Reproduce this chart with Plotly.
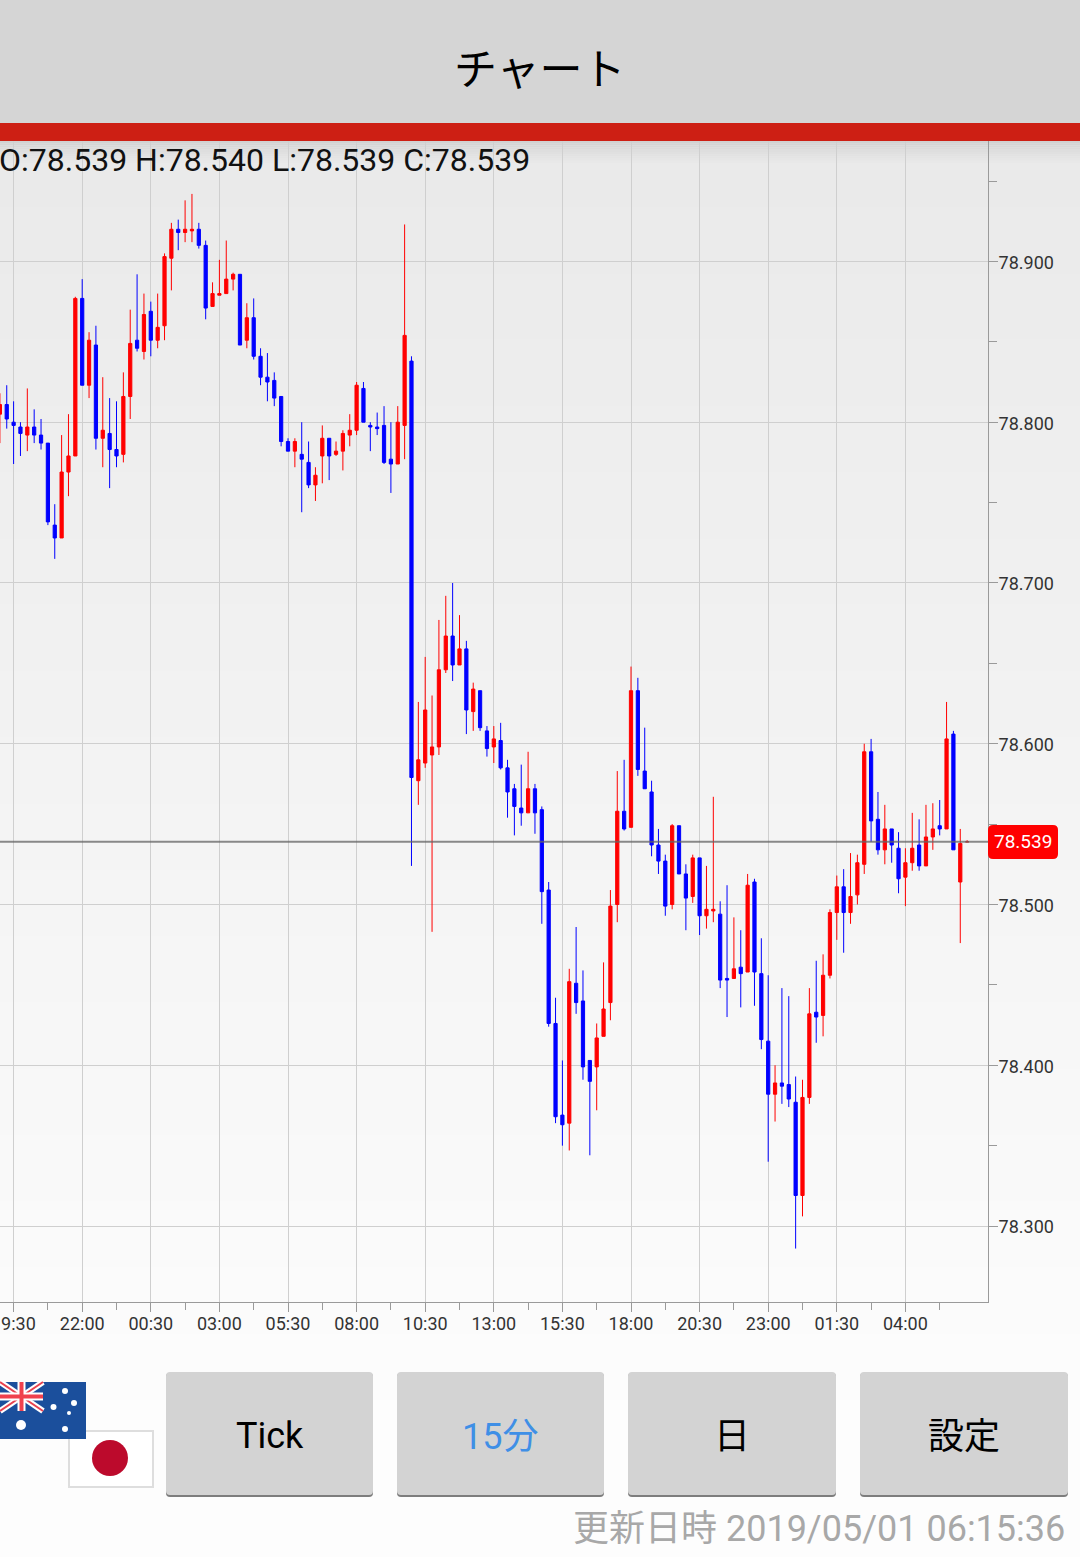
import pandas as pd
import plotly.graph_objects as go

# ---------- data (15 minute candles) ----------
start_time = "2019-04-29 19:00"
open_prices = [
    78.805, 78.811, 78.800, 78.797, 78.792, 78.797, 78.792, 78.787, 78.736, 78.728, 78.769, 78.779,
    78.877, 78.823, 78.848, 78.790, 78.793, 78.783, 78.780, 78.816, 78.851, 78.844, 78.869, 78.851,
    78.860, 78.902, 78.920, 78.918, 78.919, 78.920, 78.910, 78.872, 78.879, 78.880, 78.889, 78.892,
    78.851, 78.865, 78.841, 78.828, 78.826, 78.816, 78.788, 78.782, 78.780, 78.775, 78.761, 78.779,
    78.790, 78.780, 78.782, 78.792, 78.795, 78.821, 78.798, 78.797, 78.798, 78.777, 78.774, 78.798,
    78.838, 78.577, 78.588, 78.593, 78.598, 78.646, 78.667, 78.649, 78.659, 78.620, 78.633, 78.608,
    78.598, 78.602, 78.585, 78.572, 78.560, 78.557, 78.572, 78.559, 78.509, 78.426, 78.369, 78.364,
    78.451, 78.440, 78.403, 78.399, 78.418, 78.439, 78.500, 78.558, 78.548, 78.633, 78.583, 78.570,
    78.537, 78.527, 78.500, 78.549, 78.519, 78.505, 78.529, 78.493, 78.496, 78.494, 78.454, 78.454,
    78.461, 78.458, 78.514, 78.457, 78.415, 78.382, 78.389, 78.388, 78.377, 78.319, 78.380, 78.433,
    78.431, 78.456, 78.495, 78.511, 78.495, 78.506, 78.525, 78.595, 78.553, 78.534, 78.547, 78.535,
    78.517, 78.526, 78.537, 78.524, 78.542, 78.549, 78.547, 78.606, 78.514, 78.539,
]
high_prices = [
    78.818, 78.823, 78.813, 78.800, 78.821, 78.808, 78.802, 78.787, 78.749, 78.792, 78.805, 78.878,
    78.889, 78.856, 78.860, 78.828, 78.815, 78.813, 78.831, 78.870, 78.892, 78.880, 78.875, 78.880,
    78.905, 78.924, 78.926, 78.938, 78.942, 78.924, 78.913, 78.887, 78.901, 78.913, 78.893, 78.892,
    78.874, 78.877, 78.846, 78.843, 78.831, 78.816, 78.790, 78.790, 78.800, 78.788, 78.772, 78.798,
    78.790, 78.788, 78.795, 78.805, 78.825, 78.825, 78.800, 78.806, 78.810, 78.800, 78.810, 78.923,
    78.841, 78.626, 78.654, 78.630, 78.677, 78.692, 78.700, 78.680, 78.664, 78.638, 78.633, 78.611,
    78.611, 78.613, 78.590, 78.575, 78.587, 78.595, 78.575, 78.561, 78.514, 78.442, 78.403, 78.460,
    78.486, 78.459, 78.403, 78.426, 78.464, 78.509, 78.583, 78.590, 78.648, 78.641, 78.610, 78.577,
    78.547, 78.531, 78.550, 78.549, 78.525, 78.531, 78.529, 78.524, 78.567, 78.502, 78.512, 78.492,
    78.484, 78.519, 78.516, 78.479, 78.456, 78.400, 78.448, 78.443, 78.393, 78.391, 78.448, 78.465,
    78.469, 78.497, 78.518, 78.522, 78.532, 78.531, 78.600, 78.603, 78.570, 78.562, 78.547, 78.545,
    78.535, 78.557, 78.553, 78.562, 78.563, 78.565, 78.626, 78.608, 78.547, 78.540,
]
low_prices = [
    78.787, 78.796, 78.774, 78.779, 78.782, 78.787, 78.783, 78.736, 78.715, 78.728, 78.754, 78.779,
    78.823, 78.815, 78.783, 78.772, 78.759, 78.772, 78.775, 78.802, 78.844, 78.839, 78.841, 78.846,
    78.851, 78.882, 78.907, 78.912, 78.912, 78.908, 78.864, 78.872, 78.879, 78.880, 78.882, 78.848,
    78.846, 78.839, 78.823, 78.813, 78.810, 78.785, 78.782, 78.772, 78.744, 78.759, 78.751, 78.762,
    78.764, 78.779, 78.770, 78.785, 78.792, 78.800, 78.782, 78.792, 78.774, 78.756, 78.774, 78.777,
    78.524, 78.562, 78.585, 78.483, 78.593, 78.644, 78.639, 78.649, 78.606, 78.608, 78.608, 78.592,
    78.588, 78.584, 78.554, 78.543, 78.549, 78.557, 78.544, 78.488, 78.424, 78.364, 78.350, 78.347,
    78.432, 78.391, 78.344, 78.372, 78.418, 78.428, 78.489, 78.546, 78.548, 78.580, 78.572, 78.530,
    78.519, 78.493, 78.497, 78.519, 78.484, 78.501, 78.481, 78.485, 78.489, 78.448, 78.430, 78.454,
    78.436, 78.458, 78.437, 78.410, 78.340, 78.365, 78.376, 78.374, 78.286, 78.306, 78.376, 78.414,
    78.418, 78.454, 78.478, 78.470, 78.488, 78.500, 78.519, 78.539, 78.531, 78.525, 78.526, 78.507,
    78.499, 78.521, 78.521, 78.524, 78.534, 78.543, 78.547, 78.534, 78.476, 78.539,
]
close_prices = [
    78.811, 78.802, 78.798, 78.793, 78.797, 78.792, 78.787, 78.738, 78.728, 78.769, 78.779, 78.877,
    78.823, 78.851, 78.790, 78.795, 78.783, 78.779, 78.816, 78.849, 78.846, 78.867, 78.851, 78.859,
    78.903, 78.920, 78.918, 78.920, 78.920, 78.910, 78.871, 78.880, 78.880, 78.889, 78.892, 78.848,
    78.865, 78.841, 78.828, 78.825, 78.815, 78.788, 78.782, 78.788, 78.777, 78.761, 78.767, 78.790,
    78.779, 78.782, 78.793, 78.795, 78.823, 78.800, 78.797, 78.796, 78.775, 78.774, 78.800, 78.854,
    78.579, 78.590, 78.621, 78.598, 78.646, 78.667, 78.649, 78.659, 78.621, 78.634, 78.610, 78.597,
    78.603, 78.585, 78.570, 78.561, 78.557, 78.572, 78.557, 78.508, 78.426, 78.368, 78.363, 78.452,
    78.439, 78.399, 78.390, 78.417, 78.435, 78.499, 78.558, 78.547, 78.633, 78.584, 78.572, 78.537,
    78.527, 78.499, 78.549, 78.519, 78.504, 78.529, 78.493, 78.497, 78.497, 78.453, 78.453, 78.460,
    78.457, 78.512, 78.458, 78.416, 78.382, 78.389, 78.387, 78.379, 78.319, 78.380, 78.432, 78.430,
    78.456, 78.495, 78.511, 78.495, 78.505, 78.526, 78.595, 78.552, 78.534, 78.547, 78.537, 78.516,
    78.526, 78.535, 78.524, 78.542, 78.547, 78.547, 78.603, 78.534, 78.538, 78.539,
]
x_tick_labels = ["19:30", "22:00", "00:30", "03:00", "05:30", "08:00", "10:30",
                 "13:00", "15:30", "18:00", "20:30", "23:00", "01:30", "04:00"]
button_labels = ["Tick", "15分", "日", "設定"]
title_text = "チャート"
status_text = "更新日時 2019/05/01 06:15:36"

# ---------- page geometry ----------
W, H = 1080, 1557
L, R, T, B = 0, 92, 141, 255
FONT = "Roboto, 'Noto Sans CJK JP', sans-serif"


def px(x):
    return (x - L) / (W - L - R)


def py(y):
    return 1 - (y - T) / (H - T - B)


shapes_below, shapes_above = [], []


def rect(x0, y0, x1, y1, color, layer=shapes_above, line=None, lw=0):
    layer.append(dict(type="rect", xref="paper", yref="paper", x0=px(x0), x1=px(x1), y0=py(y0), y1=py(y1),
                      fillcolor=color, line=dict(color=line or color, width=lw), layer="below" if layer is shapes_below else "above"))


def rrect(x0, y0, x1, y1, r, color):
    d = (f"M {px(x0 + r)} {py(y0)} L {px(x1 - r)} {py(y0)} Q {px(x1)} {py(y0)} {px(x1)} {py(y0 + r)} "
         f"L {px(x1)} {py(y1 - r)} Q {px(x1)} {py(y1)} {px(x1 - r)} {py(y1)} "
         f"L {px(x0 + r)} {py(y1)} Q {px(x0)} {py(y1)} {px(x0)} {py(y1 - r)} "
         f"L {px(x0)} {py(y0 + r)} Q {px(x0)} {py(y0)} {px(x0 + r)} {py(y0)} Z")
    shapes_above.append(dict(type="path", xref="paper", yref="paper", path=d, fillcolor=color,
                             line=dict(width=0), layer="above"))


def circle(cx, cy, r, color):
    shapes_above.append(dict(type="circle", xref="paper", yref="paper", x0=px(cx - r), x1=px(cx + r),
                             y0=py(cy - r), y1=py(cy + r), fillcolor=color, line=dict(width=0), layer="above"))


def seg(x0, y0, x1, y1, color, w):
    shapes_above.append(dict(type="line", xref="paper", yref="paper", x0=px(x0), x1=px(x1), y0=py(y0), y1=py(y1),
                             line=dict(color=color, width=w), layer="above"))


# page background: vertical gradient as one band per grey level
GREY_TOP, GREY_BOTTOM = 0xEA, 0xFD
n = GREY_BOTTOM - GREY_TOP + 1
for i in range(n):
    g = GREY_TOP + i
    y0 = 141 + (1400 - 141) * i / (n - 1)
    rect(0, y0, W, H, f"rgb({g},{g},{g})", shapes_below)
# shadow under the red bar
for i, g in enumerate([0xD2, 0xD5, 0xD8, 0xDB, 0xDE, 0xE0, 0xE2, 0xE4, 0xE6, 0xE8]):
    rect(0, 141 + i * 2.2, W, 141 + (i + 1) * 2.2, f"rgb({g},{g},{g})", shapes_below)

# header
rect(0, 0, W, 123, "#d5d5d5")
rect(0, 123, W, 141, "#cd1f14")

# buttons
button_edges = [(166, 373), (397, 604), (628, 836), (860, 1068)]
for x0, x1 in button_edges:
    rrect(x0, 1373, x1, 1497, 4, "#7d7d7d")
    rrect(x0, 1372, x1, 1495, 4, "#d3d3d3")

# Japanese flag
rect(69, 1431, 153, 1487, "#ffffff", line="#dedede", lw=2)
circle(110, 1458, 18, "#bc0a2c")
# Australian flag
rect(-2, 1382, 86, 1439, "#1b4f9c")
for (a, b, c, d) in [(0, 1382, 43, 1411), (0, 1411, 43, 1382)]:
    seg(a, b, c, d, "#ffffff", 6)
    seg(a, b, c, d, "#e8424f", 2)
seg(21.5, 1382, 21.5, 1411, "#ffffff", 8)
seg(0, 1396.5, 43, 1396.5, "#ffffff", 8)
seg(21.5, 1382, 21.5, 1411, "#f0414d", 4)
seg(0, 1396.5, 43, 1396.5, "#f0414d", 4)
for cx, cy, r in [(65, 1391, 3), (74, 1403, 3), (53.5, 1407, 3), (69, 1413, 2), (65, 1429, 3), (21, 1425, 5)]:
    circle(cx, cy, r, "#ffffff")

# ---------- candles ----------
times = pd.date_range(start_time, periods=len(close_prices), freq="15min")
tick_times = times[2::10][:len(x_tick_labels)]
minor_times = times[7::10][:len(x_tick_labels)]
CANDLE_PX = 6.86
FIRST_TICK_PX = 13.6
step = pd.Timedelta(minutes=15)
x_range = [tick_times[0] - step * (FIRST_TICK_PX / CANDLE_PX),
           tick_times[0] + step * ((988 - FIRST_TICK_PX) / CANDLE_PX)]

PRICE_PX = 1608.5
y_range = [78.3 - (1302.5 - 1226.5) / PRICE_PX, 78.9 + (261.5 - 141) / PRICE_PX]

fig = go.Figure(go.Candlestick(
    x=times, open=open_prices, high=high_prices, low=low_prices, close=close_prices,
    increasing=dict(line=dict(color="#ff0000", width=1), fillcolor="#ff0000"),
    decreasing=dict(line=dict(color="#0000ff", width=1), fillcolor="#0000ff"),
    whiskerwidth=0, hoverinfo="skip",
))

last = close_prices[-1]
shapes_above.insert(0, dict(type="line", xref="paper", yref="y", x0=0, x1=1, y0=last, y1=last,
                            line=dict(color="rgba(100,100,100,0.75)", width=2), layer="above"))
rrect(988, 825, 1058, 859, 5, "#ff0000")


def note(x, y, text, size, color="#000000", anchor="center", yref="paper"):
    return dict(x=px(x), y=py(y) if yref == "paper" else y, xref="paper", yref=yref, text=text, showarrow=False,
                xanchor=anchor, yanchor="middle", align=anchor if anchor != "center" else "center",
                font=dict(family=FONT, size=size, color=color))


annotations = [
    note(540, 70, title_text, 43),
    note(-3, 160, f"O:{open_prices[-1]:.3f} H:{high_prices[-1]:.3f} L:{low_prices[-1]:.3f} C:{close_prices[-1]:.3f}", 32, "#111111", "left"),
    note(1023, last, f"{last:.3f}", 19, "#ffffff", yref="y"),
    note(1067, 1529, status_text, 36, "#a8a8a8", "right"),
    # first time label sits half outside the page, so it is placed on its tick by hand and cut by the page edge
    note(FIRST_TICK_PX, 1323, x_tick_labels[0], 18, "#333333"),
]
colors = ["#000000", "#3f8fe6", "#000000", "#000000"]
for (x0, x1), label, c in zip(button_edges, button_labels, colors):
    annotations.append(note((x0 + x1) / 2, 1436 if label == "Tick" else 1437, label, 36, c))

GRID = "#cfcfcf"
AXIS = "#9a9a9a"
fig.update_layout(
    width=W, height=H, margin=dict(l=L, r=R, t=T, b=B, autoexpand=False),
    paper_bgcolor="#fafafa", plot_bgcolor="rgba(0,0,0,0)",
    showlegend=False, boxgap=0.33, dragmode=False,
    font=dict(family=FONT, size=18, color="#333333"),
    shapes=shapes_below + shapes_above, annotations=annotations,
    xaxis=dict(
        type="date", range=x_range, rangeslider=dict(visible=False),
        tickmode="array", tickvals=list(tick_times), ticktext=[""] + x_tick_labels[1:],
        showgrid=True, gridcolor=GRID, gridwidth=1, showline=True, linecolor=AXIS, linewidth=1,
        ticks="outside", ticklen=9, tickcolor=AXIS, tickwidth=1, zeroline=False, tickangle=0,
        ticklabelstandoff=-4,
        tickfont=dict(family=FONT, size=18, color="#333333"),
        minor=dict(tickmode="array", tickvals=list(minor_times), ticks="outside", ticklen=7,
                   tickcolor=AXIS, tickwidth=1, showgrid=False),
    ),
    yaxis=dict(
        side="right", range=y_range, tick0=78.3, dtick=0.1, tickformat=".3f",
        showgrid=True, gridcolor=GRID, gridwidth=1, showline=True, linecolor=AXIS, linewidth=1,
        ticks="outside", ticklen=9, tickcolor=AXIS, tickwidth=1, zeroline=False,
        ticklabelstandoff=-3, ticklabelshift=1,
        tickfont=dict(family=FONT, size=18, color="#333333"),
        minor=dict(tick0=78.35, dtick=0.1, ticks="outside", ticklen=8, tickcolor=AXIS, tickwidth=1, showgrid=False),
    ),
)

fig.write_html("out.html", config=dict(displayModeBar=False, staticPlot=True),
               post_script="document.body.style.margin='0';document.documentElement.style.overflow='hidden';")
